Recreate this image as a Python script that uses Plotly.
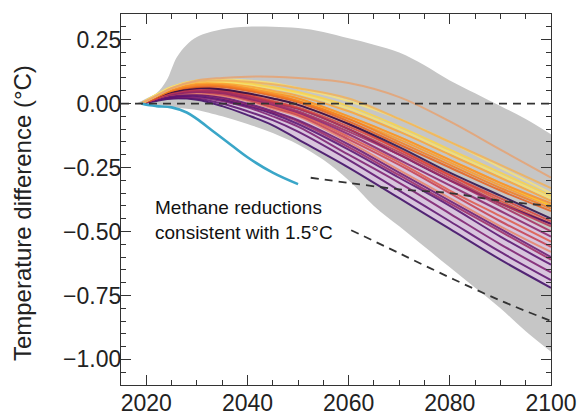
import plotly.graph_objects as go

# ---------------- data ----------------
years = [2019, 2022, 2025, 2030, 2035, 2040, 2045, 2050, 2060, 2070, 2080, 2090, 2100]

scenario_colors = [
    "#e6a373", "#f2b25a", "#f6e27a", "#fbd449", "#f9e46a", "#fca636",
    "#f98e2b", "#fdc42f", "#f47d1f", "#e8601c", "#fb9b2a",
    "#2a0b4a", "#d8443c", "#bc3754", "#a52c60", "#8a226a", "#e05a4a",
    "#c63e4f", "#e8846a", "#420a68", "#dd513a",
    "#6a176e", "#57106e", "#7c1d6f", "#5c126e", "#3d0965", "#9b2964",
]

scenario_values = [
    [0, 0.03, 0.06, 0.09, 0.10, 0.105, 0.105, 0.10, 0.08, 0.025, -0.07, -0.18, -0.29],
    [0, 0.03, 0.06, 0.085, 0.09, 0.085, 0.075, 0.06, 0.02, -0.06, -0.15, -0.24, -0.33],
    [0, 0.035, 0.065, 0.09, 0.095, 0.09, 0.08, 0.06, 0.01, -0.06, -0.15, -0.25, -0.35],
    [0, 0.035, 0.065, 0.09, 0.09, 0.08, 0.065, 0.045, -0.01, -0.09, -0.18, -0.27, -0.36],
    [0, 0.03, 0.06, 0.085, 0.085, 0.075, 0.06, 0.04, -0.02, -0.10, -0.19, -0.28, -0.37],
    [0, 0.03, 0.06, 0.08, 0.08, 0.07, 0.05, 0.03, -0.03, -0.11, -0.20, -0.29, -0.38],
    [0, 0.03, 0.055, 0.075, 0.075, 0.06, 0.04, 0.02, -0.05, -0.13, -0.22, -0.31, -0.39],
    [0, 0.03, 0.06, 0.08, 0.08, 0.065, 0.045, 0.02, -0.05, -0.13, -0.22, -0.31, -0.40],
    [0, 0.025, 0.05, 0.07, 0.07, 0.055, 0.035, 0.01, -0.06, -0.15, -0.24, -0.33, -0.41],
    [0, 0.025, 0.05, 0.065, 0.065, 0.05, 0.03, 0.005, -0.07, -0.16, -0.25, -0.34, -0.42],
    [0, 0.03, 0.055, 0.075, 0.07, 0.055, 0.035, 0.01, -0.06, -0.14, -0.23, -0.32, -0.40],
    [0, 0.025, 0.045, 0.06, 0.055, 0.04, 0.02, -0.005, -0.08, -0.17, -0.27, -0.36, -0.45],
    [0, 0.02, 0.045, 0.06, 0.055, 0.035, 0.01, -0.015, -0.09, -0.18, -0.28, -0.37, -0.46],
    [0, 0.02, 0.04, 0.055, 0.05, 0.03, 0.005, -0.02, -0.10, -0.19, -0.29, -0.39, -0.48],
    [0, 0.02, 0.04, 0.05, 0.045, 0.025, 0.0, -0.03, -0.11, -0.20, -0.30, -0.40, -0.50],
    [0, 0.02, 0.035, 0.045, 0.04, 0.02, -0.005, -0.035, -0.12, -0.22, -0.32, -0.42, -0.52],
    [0, 0.02, 0.04, 0.05, 0.04, 0.02, -0.01, -0.04, -0.13, -0.23, -0.34, -0.44, -0.54],
    [0, 0.02, 0.035, 0.045, 0.035, 0.015, -0.015, -0.045, -0.14, -0.24, -0.35, -0.46, -0.56],
    [0, 0.02, 0.035, 0.04, 0.03, 0.01, -0.02, -0.05, -0.15, -0.26, -0.37, -0.48, -0.58],
    [0, 0.02, 0.04, 0.05, 0.045, 0.03, 0.005, -0.02, -0.10, -0.20, -0.30, -0.39, -0.47],
    [0, 0.025, 0.045, 0.06, 0.055, 0.04, 0.02, -0.005, -0.08, -0.18, -0.28, -0.38, -0.47],
    [0, 0.015, 0.03, 0.035, 0.025, 0.0, -0.03, -0.065, -0.16, -0.27, -0.38, -0.49, -0.60],
    [0, 0.015, 0.025, 0.03, 0.015, -0.01, -0.04, -0.08, -0.18, -0.29, -0.40, -0.52, -0.63],
    [0, 0.015, 0.025, 0.025, 0.01, -0.015, -0.05, -0.09, -0.20, -0.31, -0.43, -0.55, -0.66],
    [0, 0.015, 0.02, 0.02, 0.0, -0.03, -0.065, -0.11, -0.22, -0.34, -0.46, -0.58, -0.69],
    [0, 0.01, 0.02, 0.015, -0.01, -0.045, -0.085, -0.14, -0.25, -0.37, -0.49, -0.61, -0.72],
    [0, 0.015, 0.03, 0.035, 0.02, -0.005, -0.035, -0.07, -0.17, -0.28, -0.39, -0.50, -0.61],
]

band_years = [2018, 2020, 2022, 2024, 2026, 2028, 2030, 2035, 2040, 2045, 2050, 2055,
              2060, 2065, 2070, 2075, 2080, 2085, 2090, 2095, 2100]
band_upper = [0.0, 0.02, 0.04, 0.09, 0.18, 0.23, 0.26, 0.29, 0.30, 0.30, 0.295, 0.28,
              0.255, 0.23, 0.20, 0.15, 0.09, 0.04, -0.01, -0.06, -0.12]
band_lower = [0.0, 0.0, -0.005, -0.01, -0.015, -0.02, -0.025, -0.05, -0.08, -0.115, -0.16, -0.22,
              -0.30, -0.40, -0.48, -0.56, -0.64, -0.72, -0.80, -0.89, -0.97]

cyan_years = [2019, 2020, 2022, 2025, 2028, 2030, 2033, 2036, 2040, 2045, 2050]
cyan_values = [0.0, -0.005, -0.01, -0.015, -0.035, -0.06, -0.105, -0.15, -0.21, -0.27, -0.315]

zero_years = [2015, 2100]
zero_values = [0.0, 0.0]

dash_upper_years = [2052.5, 2060, 2070, 2080, 2090, 2100]
dash_upper_values = [-0.29, -0.31, -0.335, -0.35, -0.38, -0.40]
dash_lower_years = [2060.5, 2070, 2080, 2090, 2100]
dash_lower_values = [-0.495, -0.585, -0.68, -0.77, -0.85]

x_ticks = [2020, 2040, 2060, 2080, 2100]
y_ticks = [0.25, 0.0, -0.25, -0.5, -0.75, -1.0]

# ---------------- figure ----------------
fig = go.Figure()

fig.add_trace(go.Scatter(x=band_years, y=band_lower, mode="lines",
                         line=dict(width=0, color="#c6c6c6", shape="spline"),
                         hoverinfo="skip", showlegend=False))
fig.add_trace(go.Scatter(x=band_years, y=band_upper, mode="lines", fill="tonexty",
                         fillcolor="#c6c6c6",
                         line=dict(width=0, color="#c6c6c6", shape="spline"),
                         hoverinfo="skip", showlegend=False))

# pale halo between the lower (purple) scenario lines
fig.add_trace(go.Scatter(x=years, y=scenario_values[25], mode="lines",
                         line=dict(width=0, shape="spline"), hoverinfo="skip",
                         showlegend=False))
fig.add_trace(go.Scatter(x=years, y=scenario_values[14], mode="lines", fill="tonexty",
                         fillcolor="rgba(222,196,228,0.75)",
                         line=dict(width=0, shape="spline"), hoverinfo="skip",
                         showlegend=False))

order = list(range(len(scenario_values)))[::-1]
for i in order:
    fig.add_trace(go.Scatter(x=years, y=scenario_values[i], mode="lines",
                             line=dict(color=scenario_colors[i], width=2, shape="spline"),
                             opacity=0.85, showlegend=False))

fig.add_trace(go.Scatter(x=cyan_years, y=cyan_values, mode="lines",
                         line=dict(color="#3aa6c8", width=2.6, shape="spline"),
                         showlegend=False))

dash_style = dict(color="#333333", width=1.8, dash="8px,6px")
fig.add_trace(go.Scatter(x=zero_years, y=zero_values, mode="lines",
                         line=dash_style, showlegend=False))
fig.add_trace(go.Scatter(x=dash_upper_years, y=dash_upper_values, mode="lines",
                         line=dict(dash_style, shape="spline"), showlegend=False))
fig.add_trace(go.Scatter(x=dash_lower_years, y=dash_lower_values, mode="lines",
                         line=dict(dash_style, shape="spline"), showlegend=False))

font_family = "Liberation Sans, Arial, sans-serif"
axis_common = dict(showline=True, linecolor="#333333", linewidth=1.2, mirror="allticks",
                   ticks="inside", tickcolor="#333333", tickwidth=1.2, ticklen=10,
                   showgrid=False, zeroline=False, automargin=False, layer="above traces",
                   tickfont=dict(family=font_family, size=23, color="#222222"))

fig.update_xaxes(range=[2015, 2100], tickmode="array", tickvals=x_ticks,
                 ticklabelstandoff=-3,
                 minor=dict(dtick=5, tick0=2015, ticks="inside", ticklen=5,
                            tickcolor="#333333", tickwidth=1.2),
                 **axis_common)
fig.update_yaxes(range=[-1.1, 0.35], tickmode="array", tickvals=y_ticks, tickformat=".2f",
                 ticklabelstandoff=-6,
                 minor=dict(dtick=0.05, tick0=0, ticks="inside", ticklen=5,
                            tickcolor="#333333", tickwidth=1.2),
                 **axis_common)

fig.add_annotation(text="Temperature difference (°C)", textangle=-90,
                   xref="paper", yref="paper", x=-0.230, y=0.4636,
                   xanchor="center", yanchor="middle", showarrow=False,
                   font=dict(family=font_family, size=24, color="#222222"))
fig.add_annotation(text="Methane reductions<br>consistent with 1.5°C",
                   xref="paper", yref="paper", x=0.074, y=0.512,
                   xanchor="left", yanchor="top", align="left", showarrow=False,
                   font=dict(family=font_family, size=19, color="#111111"))

fig.update_layout(width=579, height=415, margin=dict(l=121, r=28, t=14, b=30),
                  paper_bgcolor="white", plot_bgcolor="white", showlegend=False)

fig.write_html("out.html", config={"displayModeBar": False},
               post_script="document.body.style.margin='0px';document.body.style.overflow='hidden';")
